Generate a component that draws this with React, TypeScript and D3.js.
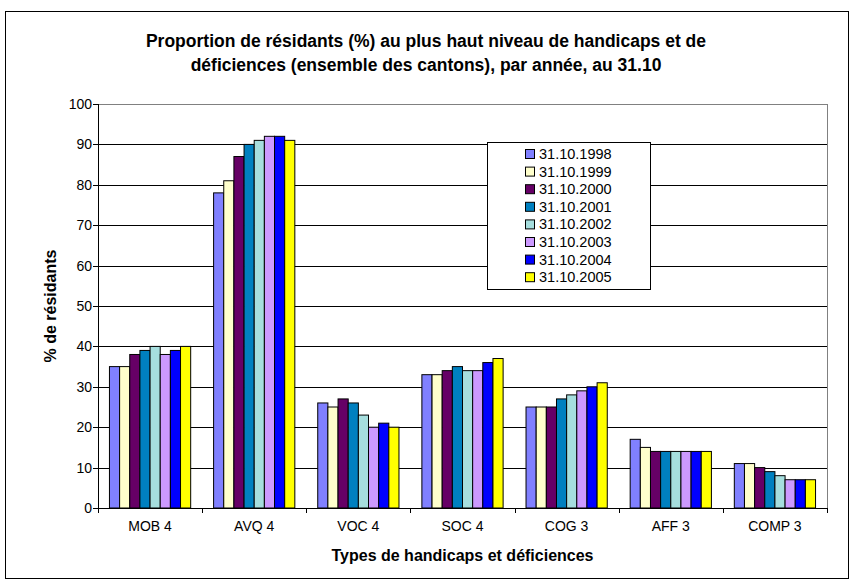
import React from "react";
import * as d3 from "d3";

const categories = ["MOB 4", "AVQ 4", "VOC 4", "SOC 4", "COG 3", "AFF 3", "COMP 3"];
const seriesNames = ["31.10.1998", "31.10.1999", "31.10.2000", "31.10.2001", "31.10.2002", "31.10.2003", "31.10.2004", "31.10.2005"];
const seriesColors = ["#8080FF", "#FFFFCC", "#660066", "#0080C0", "#A6DEDE", "#CC99FF", "#0000FF", "#FFFF00"];
const v1998 = [35, 78, 26, 33, 25, 17, 11];
const v1999 = [35, 81, 25, 33, 25, 15, 11];
const v2000 = [38, 87, 27, 34, 25, 14, 10];
const v2001 = [39, 90, 26, 35, 27, 14, 9];
const v2002 = [40, 91, 23, 34, 28, 14, 8];
const v2003 = [38, 92, 20, 34, 29, 14, 7];
const v2004 = [39, 92, 21, 36, 30, 14, 7];
const v2005 = [40, 91, 20, 37, 31, 14, 7];
const seriesValues = [v1998, v1999, v2000, v2001, v2002, v2003, v2004, v2005];
const yTicks = [0, 10, 20, 30, 40, 50, 60, 70, 80, 90, 100];

const W = 854;
const H = 580;
const plot = { left: 98, right: 827, top: 104, bottom: 508 };
const font = "'Liberation Sans', Arial, sans-serif";

export default function App() {
  const x = d3.scaleBand<string>().domain(categories).range([plot.left, plot.right]).padding(0);
  const bw = x.bandwidth();
  const inner = d3
    .scaleBand<number>()
    .domain(seriesNames.map((_, i) => i))
    .range([bw * 0.11, bw * 0.89])
    .padding(0);
  const y = d3.scaleLinear().domain([0, 100]).range([plot.bottom, plot.top]);

  const legend = { x: 487, y: 142, w: 163, h: 147 };

  return (
    <svg
      width={W}
      height={H}
      style={{ position: "absolute", left: 0, top: 0, background: "#fff" }}
      fontFamily={font}
    >
      <rect x={0} y={0} width={W} height={H} fill="#fff" />
      <rect x={5.5} y={11.5} width={843} height={567} fill="none" stroke="#000" strokeWidth={1} />
      <text x={426} y={47} textAnchor="middle" fontSize={17.5} fontWeight="bold">
        Proportion de résidants (%) au plus haut niveau de handicaps et de
      </text>
      <text x={426} y={71} textAnchor="middle" fontSize={17.5} fontWeight="bold">
        déficiences (ensemble des cantons), par année, au 31.10
      </text>

      {/* gridlines */}
      {yTicks.map((t) => (
        <line
          key={"g" + t}
          x1={plot.left}
          x2={plot.right}
          y1={Math.round(y(t)) + 0.5}
          y2={Math.round(y(t)) + 0.5}
          stroke={t === 100 ? "#808080" : "#000"}
          strokeWidth={1}
        />
      ))}
      <line x1={plot.right + 0.5} x2={plot.right + 0.5} y1={plot.top} y2={plot.bottom} stroke="#808080" />

      {/* bars */}
      {seriesValues.map((vals, si) =>
        vals.map((v, ci) => {
          const x0 = (x(categories[ci]) as number) + (inner(si) as number);
          return (
            <rect
              key={si + "-" + ci}
              x={x0}
              y={y(v)}
              width={inner.bandwidth()}
              height={plot.bottom - y(v)}
              fill={seriesColors[si]}
              stroke="#000"
              strokeWidth={1}
            />
          );
        })
      )}

      {/* axes */}
      <line x1={plot.left + 0.5} x2={plot.left + 0.5} y1={plot.top} y2={plot.bottom} stroke="#000" />
      <line x1={plot.left} x2={plot.right} y1={plot.bottom + 0.5} y2={plot.bottom + 0.5} stroke="#000" />
      {yTicks.map((t) => (
        <g key={"t" + t}>
          <line
            x1={plot.left - 5}
            x2={plot.left}
            y1={Math.round(y(t)) + 0.5}
            y2={Math.round(y(t)) + 0.5}
            stroke="#000"
          />
          <text x={plot.left - 6} y={y(t) + 5} textAnchor="end" fontSize={14}>
            {t}
          </text>
        </g>
      ))}
      {categories.map((c, i) => (
        <line
          key={"xt" + i}
          x1={Math.round((x(c) as number)) + 0.5}
          x2={Math.round((x(c) as number)) + 0.5}
          y1={plot.bottom}
          y2={plot.bottom + 5}
          stroke="#000"
        />
      ))}
      <line x1={plot.right + 0.5} x2={plot.right + 0.5} y1={plot.bottom} y2={plot.bottom + 5} stroke="#000" />
      {categories.map((c) => (
        <text key={"xl" + c} x={(x(c) as number) + bw / 2} y={plot.bottom + 23} textAnchor="middle" fontSize={14}>
          {c}
        </text>
      ))}

      <text x={(plot.left + plot.right) / 2} y={561} textAnchor="middle" fontSize={16} fontWeight="bold">
        Types de handicaps et déficiences
      </text>
      <text
        transform={`translate(56, ${(plot.top + plot.bottom) / 2}) rotate(-90)`}
        textAnchor="middle"
        fontSize={16}
        fontWeight="bold"
      >
        % de résidants
      </text>

      {/* legend */}
      <rect x={legend.x + 0.5} y={legend.y + 0.5} width={legend.w} height={legend.h} fill="#fff" stroke="#000" />
      {seriesNames.map((n, i) => {
        const cy = 154 + i * 17.6;
        return (
          <g key={"l" + n}>
            <rect x={525.5} y={cy - 4.5} width={9} height={9} fill={seriesColors[i]} stroke="#000" />
            <text x={539} y={cy + 5} fontSize={14.5}>
              {n}
            </text>
          </g>
        );
      })}
    </svg>
  );
}
